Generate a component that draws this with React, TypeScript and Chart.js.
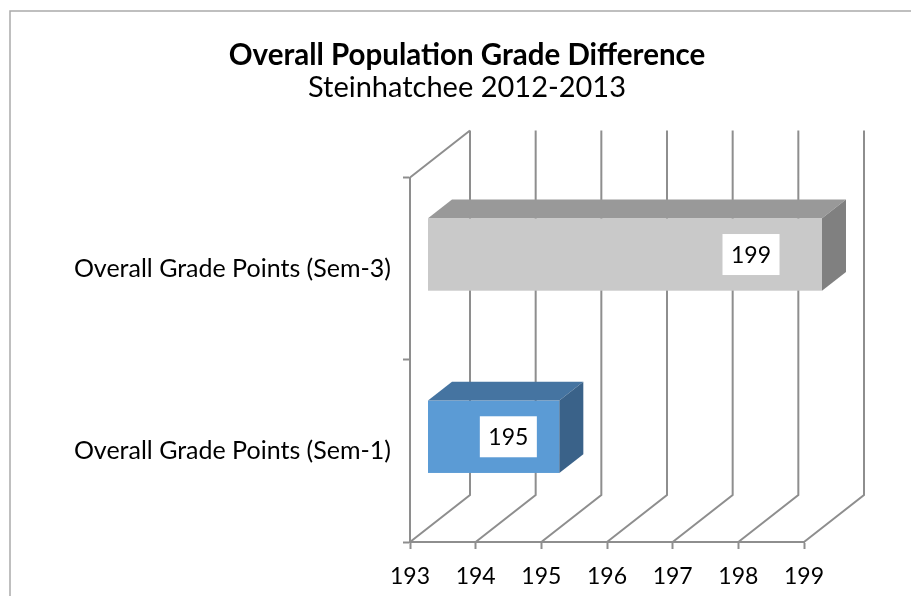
import React, { useEffect, useRef } from 'react';
import { Chart, registerables } from 'chart.js';

Chart.register(...registerables);

// ---- data ----
const categories = ['Overall Grade Points (Sem-1)', 'Overall Grade Points (Sem-3)'];
const values = [195, 199];
const xTicks = [193, 194, 195, 196, 197, 198, 199];
const titleText = 'Overall Population Grade Difference';
const subtitleText = 'Steinhatchee 2012-2013';

// ---- style ----
const frontColors = ['#5B9BD5', '#C9C9C9'];
const topColors = ['#4574A1', '#999999'];
const sideColors = ['#3A6289', '#808080'];
const labelInset = [51, 71];

const FONT = 'Lato, Carlito, Calibri, sans-serif';
const GRID = '#8E8E8E';
const DX = 60;
const DY = -47;
const BAR_FRONT = 0.3;
const BAR_DEPTH = 0.4;

const plugin3d = {
  id: 'plugin3d',
  beforeDraw(chart: any) {
    const ctx = chart.ctx;
    ctx.save();
    ctx.strokeStyle = '#ABABAB';
    ctx.lineWidth = 1.5;
    ctx.beginPath();
    ctx.moveTo(10, chart.height);
    ctx.lineTo(10, 11);
    ctx.lineTo(chart.width, 11);
    ctx.stroke();
    ctx.restore();
  },
  beforeDatasetsDraw(chart: any) {
    const { ctx, chartArea } = chart;
    const { left, top, bottom } = chartArea;
    const xs = chart.scales.x;
    ctx.save();
    ctx.strokeStyle = GRID;
    ctx.lineWidth = 2;
    ctx.beginPath();
    xs.ticks.forEach((t: any) => {
      const px = xs.getPixelForValue(t.value);
      ctx.moveTo(px, bottom);
      ctx.lineTo(px + DX, bottom + DY);
      ctx.lineTo(px + DX, top + DY);
    });
    ctx.moveTo(left, top);
    ctx.lineTo(left + DX, top + DY);
    ctx.stroke();
    ctx.restore();
  },
  afterDatasetsDraw(chart: any) {
    const ctx = chart.ctx;
    const xs = chart.scales.x;
    const meta = chart.getDatasetMeta(0);
    const fx = BAR_FRONT * DX;
    const fy = BAR_FRONT * DY;
    const bx = (BAR_FRONT + BAR_DEPTH) * DX;
    const by = (BAR_FRONT + BAR_DEPTH) * DY;
    const minPx = xs.getPixelForValue(xs.min);
    meta.data.forEach((el: any, i: number) => {
      const p = el.getProps(['x', 'y', 'base', 'height'], true);
      const x = p.x;
      const y = p.y;
      const height = p.height;
      const base = Math.max(p.base, minPx);
      const yt = y - height / 2;
      const yb = y + height / 2;
      ctx.save();
      // front
      ctx.fillStyle = frontColors[i];
      ctx.fillRect(base + fx, yt + fy, x - base, height);
      // top
      ctx.fillStyle = topColors[i];
      ctx.beginPath();
      ctx.moveTo(base + fx, yt + fy);
      ctx.lineTo(x + fx, yt + fy);
      ctx.lineTo(x + bx, yt + by);
      ctx.lineTo(base + bx, yt + by);
      ctx.closePath();
      ctx.fill();
      // side
      ctx.fillStyle = sideColors[i];
      ctx.beginPath();
      ctx.moveTo(x + fx, yt + fy);
      ctx.lineTo(x + bx, yt + by);
      ctx.lineTo(x + bx, yb + by);
      ctx.lineTo(x + fx, yb + fy);
      ctx.closePath();
      ctx.fill();
      // label
      const txt = String(values[i]);
      ctx.font = `23px ${FONT}`;
      const w = ctx.measureText(txt).width;
      const cx = x + fx - labelInset[i];
      const cy = y + fy;
      const bw = w + 17;
      const bh = 41;
      ctx.fillStyle = '#FFFFFF';
      ctx.fillRect(cx - bw / 2, cy - bh / 2, bw, bh);
      ctx.fillStyle = '#000000';
      ctx.textAlign = 'center';
      ctx.textBaseline = 'middle';
      ctx.fillText(txt, cx, cy + 1);
      ctx.restore();
    });
  },
};

export default function App() {
  const ref = useRef<HTMLCanvasElement>(null);
  useEffect(() => {
    if (!ref.current) return;
    const chart = new Chart(ref.current, {
      type: 'bar',
      data: {
        labels: categories,
        datasets: [
          {
            data: values,
            backgroundColor: 'rgba(0,0,0,0)',
            borderWidth: 0,
            categoryPercentage: 1,
            barPercentage: 0.397,
          },
        ],
      },
      options: {
        indexAxis: 'y',
        responsive: false,
        animation: false,
        devicePixelRatio: 1,
        layout: { padding: { left: 60, right: 37, top: 0, bottom: 0 } },
        plugins: {
          legend: { display: false },
          tooltip: { enabled: false },
          title: {
            display: true,
            text: titleText,
            color: '#000',
            font: { family: FONT, size: 29.5, weight: 'bold', lineHeight: 1 },
            padding: { top: 40.5, bottom: 3 },
          },
          subtitle: {
            display: true,
            text: subtitleText,
            color: '#000',
            font: { family: FONT, size: 29, weight: 'normal', lineHeight: 1 },
            padding: { top: 0, bottom: 75.5 },
          },
        },
        scales: {
          x: {
            type: 'linear',
            min: xTicks[0],
            max: xTicks[xTicks.length - 1],
            afterFit: (s: any) => {
              s.height = 54;
            },
            ticks: {
              stepSize: 1,
              autoSkip: false,
              maxRotation: 0,
              color: '#000',
              padding: 14,
              font: { family: FONT, size: 23 },
            },
            grid: { drawOnChartArea: false, tickLength: 7, tickColor: GRID, tickWidth: 2, color: GRID },
            border: { display: true, color: GRID, width: 2 },
          },
          y: {
            reverse: true,
            afterFit: (s: any) => {
              s.width = 350;
            },
            ticks: {
              color: '#000',
              padding: 12,
              font: { family: FONT, size: 25 },
            },
            grid: { drawOnChartArea: false, tickLength: 7, tickColor: GRID, tickWidth: 2, color: GRID },
            border: { display: true, color: GRID, width: 2 },
          },
          depthSpace: {
            type: 'linear',
            position: 'right',
            display: true,
            afterFit: (s: any) => {
              s.width = 70;
            },
            ticks: { display: false },
            grid: { display: false, drawTicks: false },
            border: { display: false },
          },
        },
      } as any,
      plugins: [plugin3d],
    });
    return () => chart.destroy();
  }, []);
  return (
    <div style={{ position: 'fixed', left: 0, top: 0, width: 911, height: 596, background: '#fff' }}>
      <canvas ref={ref} width={911} height={596} style={{ display: 'block' }} />
    </div>
  );
}
